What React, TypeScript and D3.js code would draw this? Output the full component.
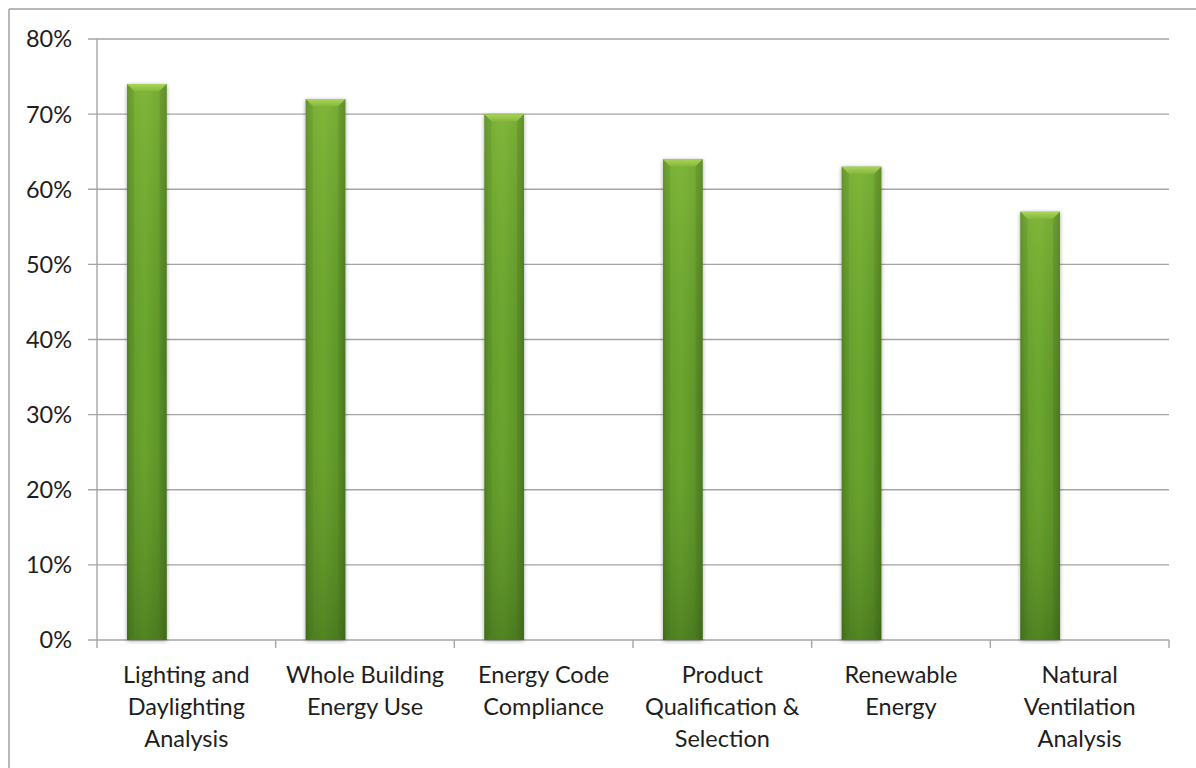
import React from "react";
import * as d3 from "d3";

const categories: string[][] = [
  ["Lighting and", "Daylighting", "Analysis"],
  ["Whole Building", "Energy Use"],
  ["Energy Code", "Compliance"],
  ["Product", "Qualification &", "Selection"],
  ["Renewable", "Energy"],
  ["Natural", "Ventilation", "Analysis"],
];
const values: number[] = [0.74, 0.72, 0.70, 0.64, 0.63, 0.57];
const yTicks: number[] = [0, 0.1, 0.2, 0.3, 0.4, 0.5, 0.6, 0.7, 0.8];

const W = 1196;
const H = 768;
const left = 97;
const right = 1169;
const top = 39;
const bottom = 640;
const FONT = "Lato, 'Open Sans', sans-serif";

export default function App() {
  const x = d3
    .scaleBand<number>()
    .domain(values.map((_, i) => i))
    .range([left, right])
    .padding(0);
  const y = d3.scaleLinear().domain([0, 0.8]).range([bottom, top]);
  const band = x.bandwidth();
  const barOff = band * 0.168;
  const barW = band * 0.222;
  const fmt = d3.format(".0%");
  const gridColor = "#a5a5a5";

  return (
    <svg
      width={W}
      height={H}
      style={{ position: "absolute", left: 0, top: 0, background: "#fff" }}
    >
      <defs>
        <linearGradient id="hgrad" x1="0" x2="1" y1="0" y2="0">
          <stop offset="0" stopColor="#4f7f22" />
          <stop offset="0.12" stopColor="#619a2a" />
          <stop offset="0.45" stopColor="#6aa52e" />
          <stop offset="0.85" stopColor="#5c9228" />
          <stop offset="1" stopColor="#4a7720" />
        </linearGradient>
        <linearGradient id="vshade" x1="0" x2="0" y1="0" y2="1">
          <stop offset="0" stopColor="#9fd04a" stopOpacity="0.4" />
          <stop offset="0.5" stopColor="#7fb23a" stopOpacity="0.05" />
          <stop offset="1" stopColor="#2e5214" stopOpacity="0.4" />
        </linearGradient>
        <linearGradient id="bevel" x1="0" x2="0" y1="0" y2="1">
          <stop offset="0" stopColor="#a9d45a" />
          <stop offset="1" stopColor="#86b93c" />
        </linearGradient>
        <filter id="shadow" x="-30%" y="-5%" width="160%" height="110%">
          <feGaussianBlur in="SourceAlpha" stdDeviation="2" />
          <feOffset dx="0" dy="1" result="b" />
          <feComponentTransfer>
            <feFuncA type="linear" slope="0.35" />
          </feComponentTransfer>
          <feMerge>
            <feMergeNode />
            <feMergeNode in="SourceGraphic" />
          </feMerge>
        </filter>
      </defs>

      {/* outer frame */}
      <line x1={9} y1={9} x2={W} y2={9} stroke="#a0a0a0" strokeWidth={1.5} />
      <line x1={9} y1={9} x2={9} y2={H} stroke="#a0a0a0" strokeWidth={1.5} />

      {/* gridlines and y ticks */}
      {yTicks.map((t) => (
        <g key={t}>
          <line
            x1={left - 9}
            x2={right}
            y1={y(t)}
            y2={y(t)}
            stroke={gridColor}
            strokeWidth={1.4}
          />
          <text
            x={72}
            y={y(t)}
            dy="0.36em"
            textAnchor="end"
            fontFamily={FONT}
            fontSize={23.5}
            fill="#1e1e1e"
          >
            {fmt(t)}
          </text>
        </g>
      ))}

      {/* y axis line */}
      <line x1={left} x2={left} y1={top} y2={bottom} stroke={gridColor} strokeWidth={1.4} />

      {/* x ticks */}
      {d3.range(values.length + 1).map((i) => {
        const xx = left + i * band;
        return (
          <line
            key={i}
            x1={xx}
            x2={xx}
            y1={bottom}
            y2={bottom + 8}
            stroke={gridColor}
            strokeWidth={1.4}
          />
        );
      })}

      {/* bars */}
      {values.map((v, i) => {
        const bx = (x(i) as number) + barOff;
        const by = y(v);
        const bh = bottom - by;
        const bev = 7;
        return (
          <g key={i} filter="url(#shadow)">
            <rect x={bx} y={by} width={barW} height={bh} fill="url(#hgrad)" />
            <rect x={bx} y={by} width={barW} height={bh} fill="url(#vshade)" />
            <path
              d={`M${bx},${by} L${bx + barW},${by} L${bx + barW - bev},${by + bev} L${bx + bev},${by + bev} Z`}
              fill="url(#bevel)"
            />
            <path
              d={`M${bx},${by} L${bx + bev},${by + bev} L${bx + bev},${by + bh - 4} L${bx},${by + bh} Z`}
              fill="#3f6a1a"
              opacity={0.18}
            />
            <path
              d={`M${bx + barW},${by} L${bx + barW - bev},${by + bev} L${bx + barW - bev},${by + bh - 4} L${bx + barW},${by + bh} Z`}
              fill="#3f6a1a"
              opacity={0.22}
            />
          </g>
        );
      })}

      {/* category labels */}
      {categories.map((lines, i) => {
        const cx = (x(i) as number) + band / 2;
        return (
          <text
            key={i}
            x={cx}
            textAnchor="middle"
            fontFamily={FONT}
            fontSize={23.5}
            fill="#1e1e1e"
          >
            {lines.map((l, j) => (
              <tspan key={j} x={cx} y={683 + j * 32}>
                {l}
              </tspan>
            ))}
          </text>
        );
      })}
    </svg>
  );
}
